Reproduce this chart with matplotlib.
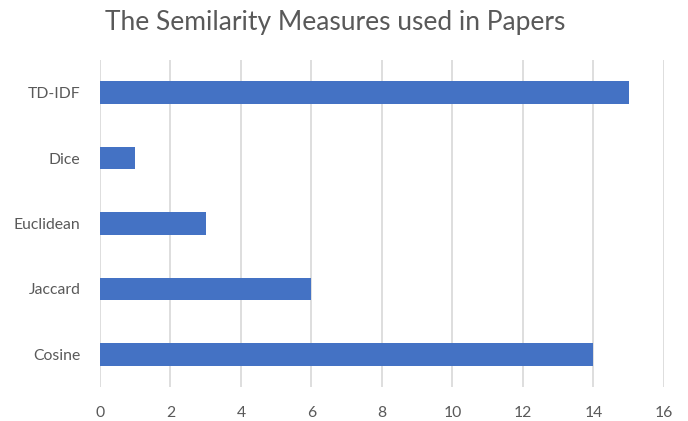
import matplotlib
matplotlib.use("Agg")
import matplotlib.pyplot as plt

categories = ["Cosine", "Jaccard", "Euclidean", "Dice", "TD-IDF"]
counts = [14, 6, 3, 1, 15]
x_ticks = [0, 2, 4, 6, 8, 10, 12, 14, 16]

plt.rcParams["font.family"] = ["Lato", "DejaVu Sans"]
text_color = "#595959"
bar_color = "#4472C4"
grid_color = "#DEDEDE"

fig = plt.figure(figsize=(6.88, 4.21), dpi=100)
ax = fig.add_axes([0.1453, 0.0808, 0.8198, 0.7767])

ax.barh(range(len(categories)), counts, height=0.345, color=bar_color, zorder=3)
ax.set_xlim(0, 16)
ax.set_ylim(-0.5, len(categories) - 0.5)
ax.set_xticks(x_ticks)
ax.set_xticklabels([str(t) for t in x_ticks])
ax.set_yticks(range(len(categories)))
ax.set_yticklabels(categories)

ax.grid(axis="x", color=grid_color, linewidth=1.4, zorder=0)
ax.grid(axis="y", visible=False)
for side in ["top", "right", "bottom", "left"]:
    ax.spines[side].set_visible(False)
ax.axvline(0, color=grid_color, linewidth=1.4, zorder=1)

ax.tick_params(axis="both", length=0, labelsize=11.3, labelcolor=text_color)
ax.tick_params(axis="x", pad=14)
ax.tick_params(axis="y", pad=14)

fig.text(0.487, 0.947, "The Semilarity Measures used in Papers",
         ha="center", va="center", fontsize=19, color=text_color)

fig.savefig("out.png", dpi=100)
